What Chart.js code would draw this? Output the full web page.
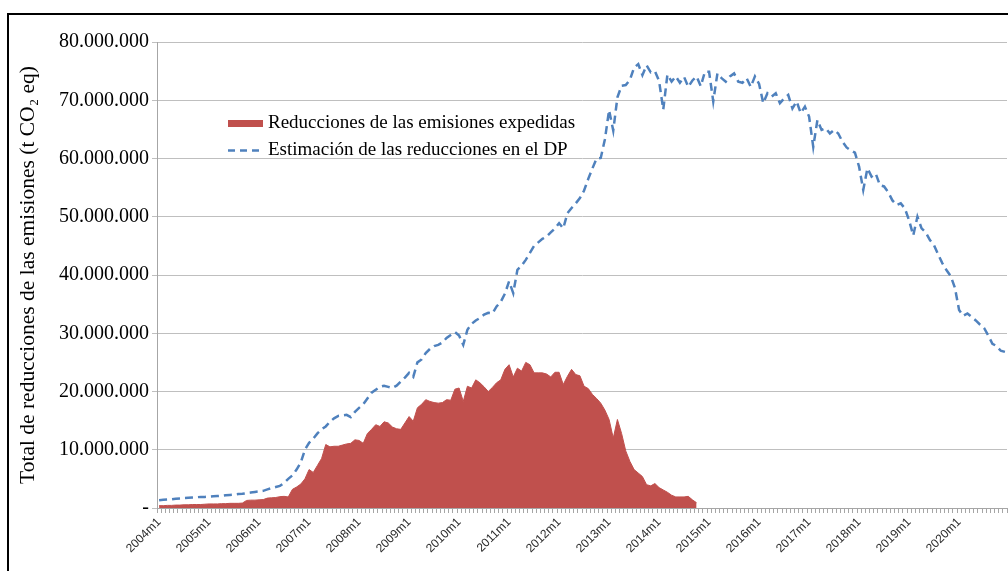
<!DOCTYPE html>
<html>
<head>
<meta charset="utf-8">
<script src="https://cdn.jsdelivr.net/npm/chart.js@4/dist/chart.umd.min.js"></script>
<style>
html,body{margin:0;padding:0;background:#fff;}
#wrap{position:relative;width:1008px;height:571px;overflow:hidden;background:#fff;}
#frame{position:absolute;left:7px;top:13px;width:1100px;height:700px;border-left:2px solid #000;border-top:2px solid #000;pointer-events:none;}
canvas{position:absolute;left:0;top:0;}
</style>
</head>
<body>
<div id="wrap"><canvas id="c" width="1008" height="571"></canvas><div id="frame"></div></div>
<script>
// Category range: monthly, 2004m1 .. 2020m12
const firstYear = 2004;
const lastYear = 2020;
const months = [];
for (let y = firstYear; y <= lastYear; y++) {
  for (let m = 1; m <= 12; m++) months.push(y + 'm' + m);
}

// Series names
const seriesRedName = 'Reducciones de las emisiones expedidas';
const seriesBlueName = 'Estimación de las reducciones en el DP';
const yTitle = 'Total de reducciones de las emisiones (t CO\u2082 eq)';

// Issued emission reductions, million t CO2 eq (2004m1 .. 2014m10)
const issuedMt = [
  0.40,0.40,0.45,0.45,0.50,0.50,0.55,0.55,0.60,0.60,0.60,0.65,
  0.70,0.70,0.70,0.75,0.75,0.80,0.80,0.80,0.85,1.30,1.35,1.35,
  1.40,1.45,1.70,1.75,1.80,1.95,2.00,1.90,3.20,3.60,4.10,5.00,
  6.60,6.10,7.30,8.50,10.90,10.50,10.60,10.60,10.80,11.00,11.10,11.70,
  11.60,11.10,12.80,13.50,14.30,14.00,14.80,14.60,13.90,13.60,13.50,14.60,
  15.70,14.90,17.20,17.80,18.60,18.30,18.10,18.00,18.10,18.60,18.50,20.40,
  20.60,18.30,20.90,20.60,22.00,21.50,20.80,20.00,20.70,21.50,22.00,23.80,
  24.60,22.50,24.00,23.50,25.00,24.60,23.20,23.20,23.20,23.00,22.50,23.30,
  23.30,21.20,22.60,23.80,22.90,22.70,20.90,20.50,19.50,18.80,18.00,16.80,
  15.20,12.00,15.20,12.80,9.80,8.00,6.60,6.00,5.40,4.00,3.80,4.20,
  3.50,3.10,2.70,2.20,1.90,1.90,1.90,2.00,1.40,0.90
];

// Estimated reductions in the PDD, million t CO2 eq (2004m1 .. 2020m12)
const estimatedMt = [
  1.35,1.40,1.45,1.50,1.60,1.65,1.70,1.75,1.80,1.85,1.90,1.90,
  1.95,2.00,2.05,2.10,2.20,2.25,2.30,2.40,2.45,2.55,2.65,2.75,
  2.85,2.95,3.20,3.40,3.60,3.80,4.30,5.00,5.60,6.60,7.80,10.00,
  11.20,11.90,12.80,13.50,14.00,14.80,15.40,15.80,15.90,16.00,15.60,16.50,
  17.20,17.80,18.80,19.80,20.30,20.80,21.00,20.80,20.60,21.00,21.70,22.40,
  23.20,22.50,25.00,25.50,26.60,27.30,27.80,28.00,28.40,29.20,29.70,30.20,
  29.60,28.00,30.60,31.60,32.20,32.60,33.20,33.50,33.40,34.60,35.40,36.80,
  38.90,36.90,40.90,41.60,42.60,43.80,45.00,45.60,46.20,46.60,47.30,48.00,
  48.90,48.00,50.60,51.50,52.30,53.20,54.50,56.50,58.30,60.00,60.10,63.30,
  68.30,64.80,70.50,72.50,72.60,73.50,75.60,76.20,74.30,76.00,74.80,75.00,
  73.30,68.40,74.40,73.20,74.10,73.00,74.00,72.30,73.40,74.10,72.40,74.90,
  74.90,69.80,74.60,73.80,73.20,74.10,74.60,73.20,73.00,73.80,72.30,74.10,
  72.80,69.50,71.20,70.60,71.20,69.50,70.30,70.90,68.60,69.80,67.80,68.90,
  67.20,62.00,66.60,64.90,65.20,64.30,64.90,64.30,62.90,61.90,61.40,61.00,
  58.60,54.60,58.30,56.90,57.40,55.40,55.20,54.20,52.80,52.00,52.30,51.40,
  49.40,46.80,50.00,48.00,47.30,46.00,45.10,43.50,42.00,40.80,39.80,37.80,
  34.00,33.00,33.40,32.80,32.20,31.50,30.90,29.60,28.20,27.80,27.00,26.80
];

// Y axis ticks (million t)
const yMaxMt = 80;
const yStepMt = 10;

const redData = months.map((_, i) => i < issuedMt.length ? issuedMt[i] : null);

function fmtDots(n) {
  if (n === 0) return '-';
  return String(Math.round(n)).replace(/\B(?=(\d{3})+(?!\d))/g, '.');
}

const serif = "'Liberation Serif', 'Times New Roman', serif";

const insideLegend = {
  id: 'insideLegend',
  afterDraw(chart) {
    const ctx = chart.ctx;
    const a = chart.chartArea;
    const x0 = a.left + 71, x1 = a.left + 106, tx = a.left + 111;
    const y1 = a.top + 81, y2 = a.top + 108;
    ctx.save();
    ctx.fillStyle = '#C0504D';
    ctx.fillRect(x0, y1 - 3, x1 - x0, 7);
    ctx.strokeStyle = '#4F81BD';
    ctx.lineWidth = 2.5;
    ctx.setLineDash([7, 5]);
    ctx.beginPath();
    ctx.moveTo(x0, y2 + 0.5);
    ctx.lineTo(x1, y2 + 0.5);
    ctx.stroke();
    ctx.setLineDash([]);
    ctx.fillStyle = '#000';
    ctx.font = "19px " + serif;
    ctx.textBaseline = 'middle';
    ctx.textAlign = 'left';
    ctx.fillText(chart.data.datasets[1].label, tx, y1);
    ctx.fillText(chart.data.datasets[0].label, tx, y2);
    ctx.restore();
  }
};

new Chart(document.getElementById('c'), {
  type: 'line',
  data: {
    labels: months,
    datasets: [
      {
        label: seriesBlueName,
        data: estimatedMt,
        borderColor: '#4F81BD',
        borderWidth: 2.5,
        borderDash: [8, 5],
        pointRadius: 0,
        fill: false,
        tension: 0,
        order: 1
      },
      {
        label: seriesRedName,
        data: redData,
        borderColor: '#C0504D',
        backgroundColor: '#C0504D',
        borderWidth: 1,
        pointRadius: 0,
        fill: 'origin',
        tension: 0,
        spanGaps: false,
        order: 2
      }
    ]
  },
  options: {
    responsive: false,
    animation: false,
    devicePixelRatio: 1,
    layout: { autoPadding: false, padding: { left: 10, top: 42, right: 1, bottom: 0 } },
    plugins: { legend: { display: false }, tooltip: { enabled: false } },
    scales: {
      x: {
        type: 'category',
        offset: true,
        grid: { offset: true, drawOnChartArea: false, drawTicks: true, tickLength: 5, color: '#a6a6a6', lineWidth: 1 },
        border: { color: '#a6a6a6', width: 1 },
        ticks: {
          autoSkip: false,
          minRotation: 45,
          maxRotation: 45,
          padding: 2,
          color: '#2b2b2b',
          font: { family: "'Liberation Sans', Arial, sans-serif", size: 12 },
          callback: function (v, i) { return i % 12 === 0 ? months[i] : ''; }
        },
        afterFit: function (s) { s.height = 63; s.paddingLeft = 0; s.paddingRight = 0; }
      },
      y: {
        min: 0,
        max: yMaxMt,
        ticks: {
          stepSize: yStepMt,
          padding: 3,
          color: '#000',
          font: { family: serif, size: 20 },
          callback: function (v) { return fmtDots(v * 1e6); }
        },
        grid: { color: '#bfbfbf', lineWidth: 1, tickLength: 5 },
        border: { color: '#a6a6a6', width: 1 },
        title: {
          display: true,
          text: yTitle,
          color: '#000',
          font: { family: serif, size: 21.5 },
          padding: { top: 5, bottom: 0 }
        },
        afterFit: function (s) { s.width = 147; s.paddingTop = 0; s.paddingBottom = 0; }
      }
    }
  },
  plugins: [insideLegend]
});
</script>
</body>
</html>
